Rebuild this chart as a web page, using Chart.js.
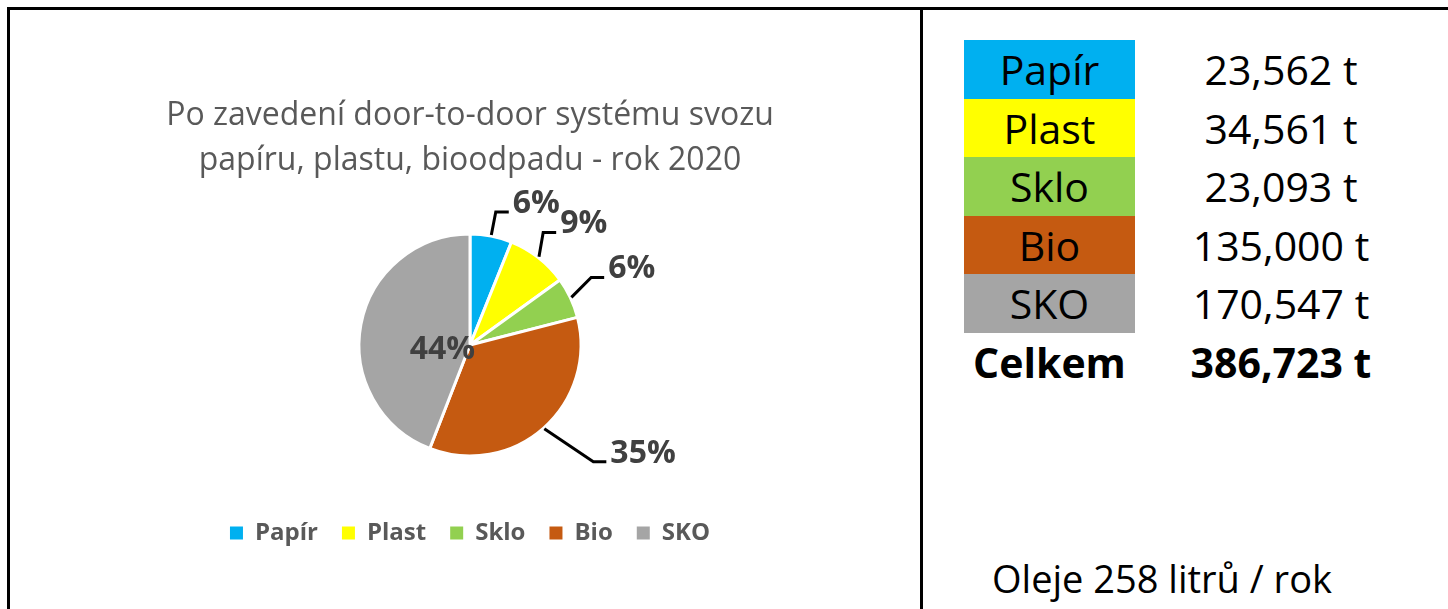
<!DOCTYPE html>
<html>
<head>
<meta charset="utf-8">
<script src="https://cdn.jsdelivr.net/npm/chart.js@4.4.1/dist/chart.umd.min.js"></script>
<style>
    html, body { margin: 0; padding: 0; background: #fff; }
    body {
        width: 1448px; height: 609px; position: relative; overflow: hidden;
        font-family: "Open Sans", sans-serif; color: #000;
    }
    .rule { position: absolute; background: #000; }
    #chartBox { position: absolute; left: 10px; top: 9px; width: 910px; height: 600px; }
    .cell {
        position: absolute; left: 964px; width: 171px; height: 59px;
        display: flex; align-items: center; justify-content: center;
        font-size: 41px; line-height: 1;
    }
    .val {
        position: absolute; left: 1161px; width: 240px; height: 59px;
        display: flex; align-items: center; justify-content: center;
        font-size: 41px; line-height: 1; white-space: nowrap;
    }
    .bold { font-weight: bold; }
    #oil {
        position: absolute; left: 962px; width: 400px; top: 552px; height: 52px;
        display: flex; align-items: center; justify-content: center;
        font-size: 38px; line-height: 1; white-space: nowrap;
    }
</style>
</head>
<body>
<div class="rule" style="left:7px;top:7px;width:1441px;height:3px"></div>
<div class="rule" style="left:7px;top:7px;width:3px;height:602px"></div>
<div class="rule" style="left:920px;top:9px;width:3px;height:600px"></div>

<div id="chartBox"><canvas id="pie" width="910" height="600"></canvas></div>
<div id="table"></div>
<div id="oil"></div>

<script>
const categories = ["Papír", "Plast", "Sklo", "Bio", "SKO"];
const tonnes = [23.562, 34.561, 23.093, 135.000, 170.547];
const totalTonnes = 386.723; // as printed in the source table
const oilLitres = 258;
const chartTitle = ["Po zavedení door-to-door systému svozu", "papíru, plastu, bioodpadu - rok 2020"];
const colors = ["#00B0F0", "#FFFF00", "#92D050", "#C55A11", "#A5A5A5"];

// leader line elbow: [radius factor, angle offset in degrees]; factor < 1 means label inside
const leaderLayout = [[1.22, 0], [1.21, -5], [1.25, -4], [1.53, -5], [0.25, -17]];

const FONT = '"Open Sans", sans-serif';

function fmt(v) {
    return v.toFixed(3).replace(".", ",") + " t";
}

// right hand table
const table = document.getElementById("table");
categories.forEach((name, i) => {
    const top = 40 + i * 58.6;
    const c = document.createElement("div");
    c.className = "cell";
    c.style.top = top + "px";
    c.style.background = colors[i];
    c.textContent = name;
    table.appendChild(c);
    const v = document.createElement("div");
    v.className = "val";
    v.style.top = top + "px";
    v.textContent = fmt(tonnes[i]);
    table.appendChild(v);
});
const sumTop = 40 + 5 * 58.6;
table.insertAdjacentHTML("beforeend",
    `<div class="cell bold" style="top:${sumTop}px">Celkem</div>` +
    `<div class="val bold" style="top:${sumTop}px">${fmt(totalTonnes)}</div>`);
document.getElementById("oil").textContent = "Oleje " + oilLitres + " litrů / rok";

const pctLabels = {
    id: "pctLabels",
    afterDatasetsDraw(chart) {
        const ctx = chart.ctx;
        const meta = chart.getDatasetMeta(0);
        const total = tonnes.reduce((a, b) => a + b, 0);
        ctx.save();
        ctx.font = "bold 32px " + FONT;
        ctx.fillStyle = "#404040";
        ctx.strokeStyle = "#000";
        ctx.lineWidth = 3;
        meta.data.forEach((arc, i) => {
            const { x, y, startAngle, endAngle, outerRadius } =
                arc.getProps(["x", "y", "startAngle", "endAngle", "outerRadius"], true);
            const mid = (startAngle + endAngle) / 2;
            const [f, off] = leaderLayout[i];
            const a = mid + off * Math.PI / 180;
            const text = Math.round(tonnes[i] / total * 100) + "%";
            if (f < 1) {
                ctx.textAlign = "center";
                ctx.textBaseline = "middle";
                ctx.fillText(text, x + Math.cos(a) * outerRadius * f, y + 2 + Math.sin(a) * outerRadius * f);
                return;
            }
            const sx = x + Math.cos(mid) * (outerRadius + 1);
            const sy = y + Math.sin(mid) * (outerRadius + 1);
            const ex = x + Math.cos(a) * outerRadius * f;
            const ey = y + Math.sin(a) * outerRadius * f;
            ctx.beginPath();
            ctx.moveTo(sx, sy);
            ctx.lineTo(ex, ey);
            ctx.lineTo(ex + 13, ey);
            ctx.stroke();
            ctx.textAlign = "left";
            ctx.textBaseline = "alphabetic";
            ctx.fillText(text, ex + 17, ey + 1);
        });
        ctx.restore();
    }
};

function draw() {
    new Chart(document.getElementById("pie"), {
        type: "pie",
        data: {
            labels: categories,
            datasets: [{
                data: tonnes,
                backgroundColor: colors,
                borderColor: "#fff",
                borderWidth: 3,
                radius: 111,
            }],
        },
        options: {
            responsive: false,
            animation: false,
            layout: { padding: { left: 10, right: 0, top: 0, bottom: 54 } },
            plugins: {
                tooltip: { enabled: false },
                title: {
                    display: true,
                    text: chartTitle,
                    color: "#595959",
                    font: { family: FONT, size: 32, weight: "normal", lineHeight: 45 / 32 },
                    padding: { top: 84, bottom: 10 },
                },
                legend: {
                    position: "bottom",
                    labels: {
                        boxWidth: 13,
                        boxHeight: 13,
                        padding: 24,
                        color: "#595959",
                        font: { family: FONT, size: 24, weight: "bold" },
                        generateLabels: (chart) =>
                            Chart.controllers.pie.overrides.plugins.legend.labels
                                .generateLabels(chart).map((l) => ({ ...l, lineWidth: 0 })),
                    },
                },
            },
        },
        plugins: [pctLabels],
    });
}

Promise.all([
    document.fonts.load("32px " + FONT),
    document.fonts.load("bold 32px " + FONT),
]).then(draw, draw);
</script>
</body>
</html>
